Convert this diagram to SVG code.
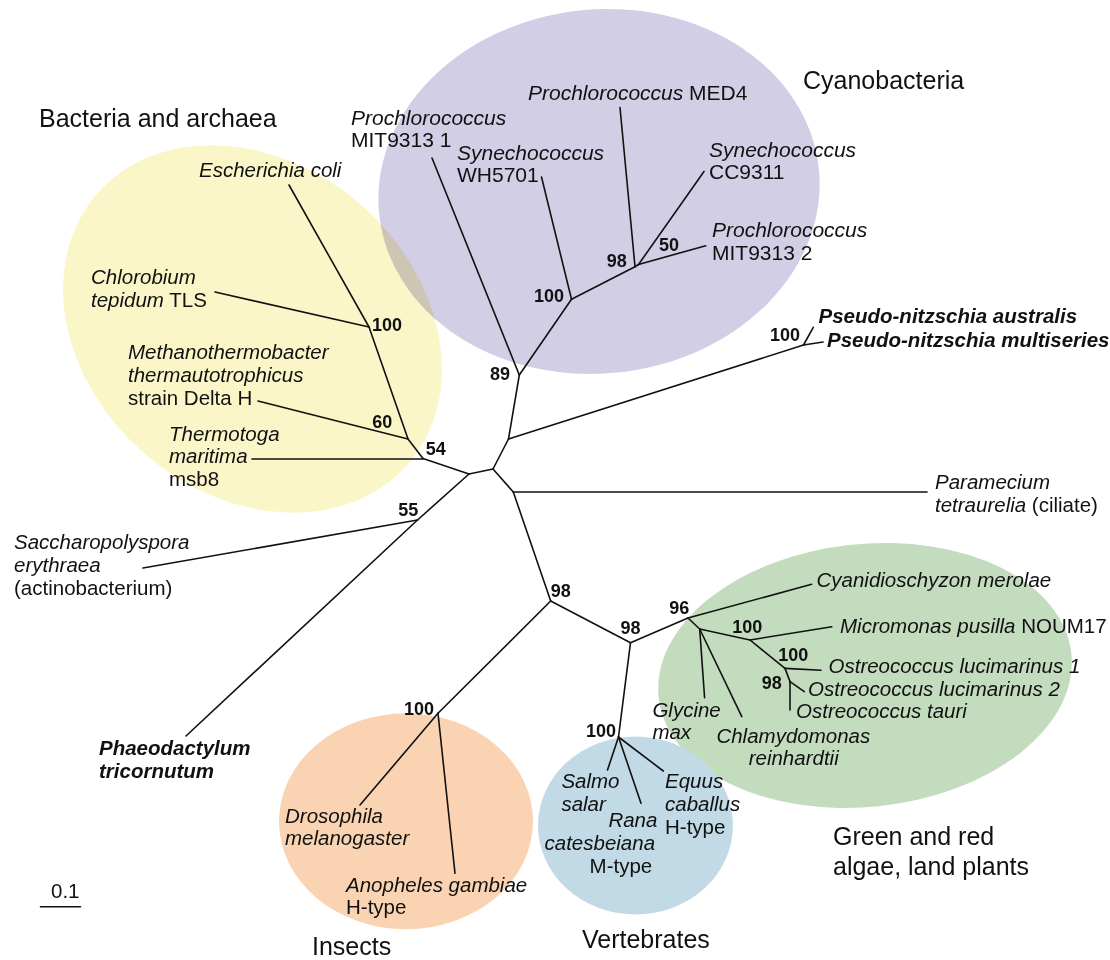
<svg xmlns="http://www.w3.org/2000/svg" width="1110" height="960" viewBox="0 0 1110 960">
<style>
text{font-family:"Liberation Sans",Arial,Helvetica,sans-serif;fill:#111}
.sp{font-size:20.5px;font-style:italic}
.cy{font-size:21px}
.r{font-style:normal}
.bi{font-weight:bold}
.grp{font-size:25px}
.bs{font-size:18px;font-weight:bold}
.edges line,.edges polyline{stroke:#111;stroke-width:1.6;fill:none;stroke-linecap:round}
.mul{mix-blend-mode:multiply}
</style>
<rect x="0" y="0" width="1110" height="960" fill="#ffffff"/>
<g id="clades">
  <g id="clade-bacteria"><ellipse class="mul" cx="252.5" cy="329" rx="206" ry="165" transform="rotate(41 252.5 329)" fill="#faf6c8"/></g>
  <g id="clade-cyanobacteria"><ellipse class="mul" cx="599" cy="191.5" rx="221" ry="182" transform="rotate(-6 599 191.5)" fill="#d2cee6"/></g>
  <g id="clade-plants"><ellipse cx="865" cy="675.5" rx="207.5" ry="131.5" transform="rotate(-6 865 675.5)" fill="#c3dcbe"/></g>
  <g id="clade-vertebrates"><ellipse cx="635.5" cy="825.5" rx="97.5" ry="89" fill="#c1dae6"/></g>
  <g id="clade-insects"><ellipse cx="406" cy="821.3" rx="127" ry="108" fill="#fad4b2"/></g>
</g>
<g class="edges" id="connectors">
  <!-- bacteria -->
  <line x1="289" y1="185" x2="369" y2="327"/>
  <line x1="215" y1="292" x2="369" y2="327"/>
  <line x1="369" y1="327" x2="408" y2="439"/>
  <line x1="258" y1="401" x2="408" y2="439"/>
  <line x1="408" y1="439" x2="423" y2="458.5"/>
  <line x1="252" y1="459" x2="423" y2="459"/>
  <line x1="423" y1="458.5" x2="469" y2="474"/>
  <!-- center -->
  <line x1="469" y1="474" x2="493" y2="469"/>
  <line x1="469" y1="474" x2="417.5" y2="520"/>
  <line x1="143" y1="568" x2="417.5" y2="520"/>
  <line x1="417.5" y1="520" x2="186" y2="736"/>
  <line x1="493" y1="469" x2="508.5" y2="439"/>
  <line x1="508.5" y1="439" x2="519.3" y2="375"/>
  <line x1="508.5" y1="439" x2="803.5" y2="345"/>
  <line x1="803.5" y1="345" x2="813.3" y2="327.3"/>
  <line x1="803.5" y1="345" x2="823" y2="342"/>
  <line x1="493" y1="469" x2="513.3" y2="492"/>
  <line x1="513.3" y1="492" x2="927" y2="492"/>
  <line x1="513.3" y1="492" x2="550.7" y2="601"/>
  <!-- cyanobacteria -->
  <line x1="432" y1="158" x2="519.3" y2="375"/>
  <line x1="519.3" y1="375" x2="571.5" y2="299.3"/>
  <line x1="541.5" y1="177" x2="571.5" y2="299.3"/>
  <line x1="571.5" y1="299.3" x2="635" y2="266.7"/>
  <line x1="620" y1="107.5" x2="635" y2="266.7"/>
  <line x1="635" y1="266.7" x2="638.5" y2="264.5"/>
  <line x1="638.5" y1="264.5" x2="704" y2="171.5"/>
  <line x1="638.5" y1="264.5" x2="705.7" y2="245.7"/>
  <!-- insects -->
  <line x1="550.7" y1="601" x2="438" y2="713.3"/>
  <line x1="438" y1="713.3" x2="360" y2="805"/>
  <line x1="438" y1="713.3" x2="455" y2="873.3"/>
  <!-- plants / vertebrates -->
  <line x1="550.7" y1="601" x2="630.5" y2="642.7"/>
  <line x1="630.5" y1="642.7" x2="688" y2="618"/>
  <line x1="630.5" y1="642.7" x2="618.5" y2="737"/>
  <line x1="618.5" y1="737" x2="607.5" y2="770"/>
  <line x1="618.5" y1="737" x2="641" y2="803.3"/>
  <line x1="618.5" y1="737" x2="663.3" y2="771"/>
  <line x1="688" y1="618" x2="811.6" y2="584.3"/>
  <line x1="688" y1="618" x2="699.7" y2="629"/>
  <line x1="699.7" y1="629" x2="704.6" y2="697.7"/>
  <line x1="699.7" y1="629" x2="741.8" y2="716.7"/>
  <line x1="699.7" y1="629" x2="750" y2="640"/>
  <line x1="750" y1="640" x2="831.8" y2="626.8"/>
  <line x1="750" y1="640" x2="785" y2="668.4"/>
  <line x1="785" y1="668.4" x2="821" y2="670.3"/>
  <line x1="785" y1="668.4" x2="790" y2="681.6"/>
  <line x1="790" y1="681.6" x2="804.3" y2="691.6"/>
  <line x1="790" y1="681.6" x2="790" y2="710"/>
  <!-- scale bar -->
  <line x1="40.5" y1="906.7" x2="80.5" y2="906.7"/>
</g>
<g id="group-labels">
  <text class="grp" x="39" y="127">Bacteria and archaea</text>
  <text class="grp" x="803" y="88.5">Cyanobacteria</text>
  <text class="grp" x="312" y="955">Insects</text>
  <text class="grp" x="582" y="948">Vertebrates</text>
  <text class="grp" x="833" y="845">Green and red</text>
  <text class="grp" x="833" y="875">algae, land plants</text>
</g>
<g id="taxa">
  <g id="t-mit9313-1"><text class="sp cy" x="351" y="125">Prochlorococcus</text><text class="sp cy r" x="351" y="147">MIT9313 1</text></g>
  <g id="t-wh5701"><text class="sp cy" x="457" y="160">Synechococcus</text><text class="sp cy r" x="457" y="182">WH5701</text></g>
  <g id="t-med4"><text class="sp cy" x="528" y="99.5">Prochlorococcus<tspan class="r"> MED4</tspan></text></g>
  <g id="t-cc9311"><text class="sp cy" x="709" y="156.7">Synechococcus</text><text class="sp cy r" x="709" y="179.3">CC9311</text></g>
  <g id="t-mit9313-2"><text class="sp cy" x="712" y="237.3">Prochlorococcus</text><text class="sp cy r" x="712" y="260">MIT9313 2</text></g>
  <g id="t-ecoli"><text class="sp" x="199" y="177">Escherichia coli</text></g>
  <g id="t-chlorobium"><text class="sp" x="91" y="284.3">Chlorobium</text><text class="sp" x="91" y="307.3">tepidum<tspan class="r"> TLS</tspan></text></g>
  <g id="t-methano"><text class="sp" x="128" y="359.3">Methanothermobacter</text><text class="sp" x="128" y="382">thermautotrophicus</text><text class="sp r" x="128" y="405.3">strain Delta H</text></g>
  <g id="t-thermotoga"><text class="sp" x="169" y="440.7">Thermotoga</text><text class="sp" x="169" y="463.3">maritima</text><text class="sp r" x="169" y="486">msb8</text></g>
  <g id="t-saccharo"><text class="sp" x="14" y="549.3">Saccharopolyspora</text><text class="sp" x="14" y="571.7">erythraea</text><text class="sp r" x="14" y="595">(actinobacterium)</text></g>
  <g id="t-phaeo"><text class="sp bi" x="99" y="755">Phaeodactylum</text><text class="sp bi" x="99" y="777.7">tricornutum</text></g>
  <g id="t-pseudo-a"><text class="sp bi" x="818.5" y="323.3">Pseudo-nitzschia australis</text></g>
  <g id="t-pseudo-m"><text class="sp bi" x="827" y="346.7">Pseudo-nitzschia multiseries</text></g>
  <g id="t-paramecium"><text class="sp" x="935" y="488.5">Paramecium</text><text class="sp" x="935" y="511.7">tetraurelia<tspan class="r"> (ciliate)</tspan></text></g>
  <g id="t-drosophila"><text class="sp" x="285" y="822.7">Drosophila</text><text class="sp" x="285" y="845">melanogaster</text></g>
  <g id="t-anopheles"><text class="sp" x="346" y="891.7">Anopheles gambiae</text><text class="sp r" x="346" y="914">H-type</text></g>
  <g id="t-salmo"><text class="sp" x="561.4" y="788.3">Salmo</text><text class="sp" x="561.4" y="810.7">salar</text></g>
  <g id="t-rana"><text class="sp" x="608.4" y="827.3">Rana</text><text class="sp" x="544.5" y="850">catesbeiana</text><text class="sp r" x="589.6" y="873.3">M-type</text></g>
  <g id="t-equus"><text class="sp" x="665" y="788.3">Equus</text><text class="sp" x="665" y="810.7">caballus</text><text class="sp r" x="665" y="834">H-type</text></g>
  <g id="t-cyanidio"><text class="sp" x="816.5" y="586.7">Cyanidioschyzon merolae</text></g>
  <g id="t-micromonas"><text class="sp" x="840" y="633.3">Micromonas pusilla<tspan class="r"> NOUM17</tspan></text></g>
  <g id="t-ostluc1"><text class="sp" x="828.5" y="673.3">Ostreococcus lucimarinus 1</text></g>
  <g id="t-ostluc2"><text class="sp" x="808" y="696">Ostreococcus lucimarinus 2</text></g>
  <g id="t-osttauri"><text class="sp" x="796" y="718.3">Ostreococcus tauri</text></g>
  <g id="t-glycine"><text class="sp" x="652.4" y="716.7">Glycine</text><text class="sp" x="652.4" y="739.3">max</text></g>
  <g id="t-chlamy"><text class="sp" x="716.4" y="742.7">Chlamydomonas</text><text class="sp" x="748.7" y="765">reinhardtii</text></g>
  <g id="scale"><text class="sp r" x="51" y="898.3">0.1</text></g>
</g>
<g id="bootstrap">
  <text class="bs" x="372" y="331">100</text>
  <text class="bs" x="372.3" y="428.3">60</text>
  <text class="bs" x="425.7" y="455">54</text>
  <text class="bs" x="398.3" y="515.5">55</text>
  <text class="bs" x="490" y="380">89</text>
  <text class="bs" x="534" y="301.7">100</text>
  <text class="bs" x="606.7" y="267.3">98</text>
  <text class="bs" x="659" y="250.7">50</text>
  <text class="bs" x="770" y="340.7">100</text>
  <text class="bs" x="550.7" y="597.3">98</text>
  <text class="bs" x="620.5" y="634">98</text>
  <text class="bs" x="669.3" y="614">96</text>
  <text class="bs" x="732.3" y="633.3">100</text>
  <text class="bs" x="778.3" y="661">100</text>
  <text class="bs" x="761.7" y="689.3">98</text>
  <text class="bs" x="586" y="737.3">100</text>
  <text class="bs" x="404" y="715">100</text>
</g>
</svg>
